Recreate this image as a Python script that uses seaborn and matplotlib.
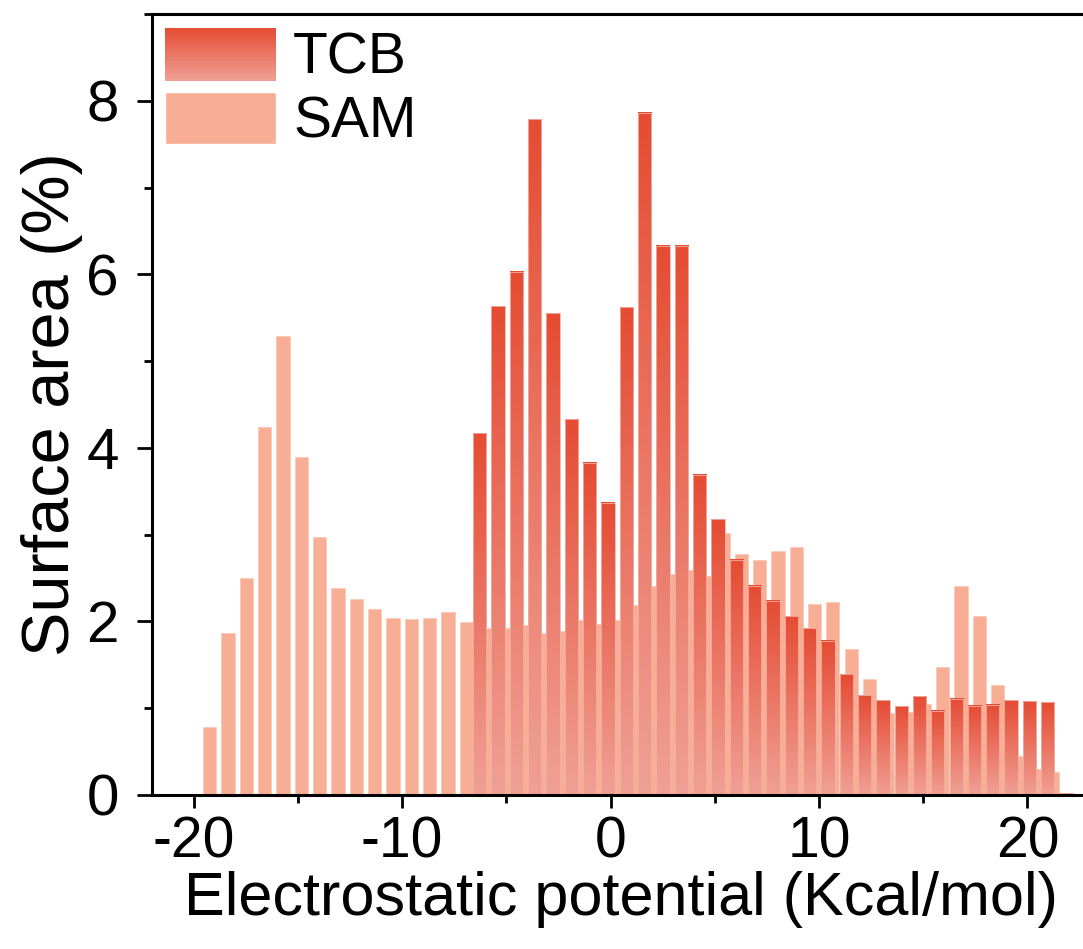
import numpy as np
import matplotlib
matplotlib.use("Agg")
import matplotlib.pyplot as plt
import seaborn as sns
from matplotlib.colors import LinearSegmentedColormap
from matplotlib.legend_handler import HandlerBase
from matplotlib.patches import Rectangle
from matplotlib.ticker import MultipleLocator

# ---------------- data ----------------
series_labels = ["TCB", "SAM"]

sam_values = [0.78, 1.87, 2.50, 4.24, 5.29, 3.89, 2.97, 2.39, 2.26, 2.14,
              2.04, 2.03, 2.04, 2.11, 1.99, 1.92, 1.93, 1.96, 1.87, 1.89,
              2.02, 1.97, 2.02, 2.19, 2.41, 2.55, 2.59, 2.52, 3.02, 2.78,
              2.71, 2.81, 2.86, 2.20, 2.22, 1.68, 1.34, 0.94, 0.96, 1.05,
              1.48, 2.41, 2.06, 1.27, 0.45, 0.30, 0.27]

tcb_values = [4.17, 5.63, 6.03, 7.79, 5.55, 4.33, 3.83, 3.37, 5.62, 7.86,
              6.33, 6.33, 3.69, 3.18, 2.71, 2.41, 2.24, 2.06, 1.92, 1.78,
              1.39, 1.15, 1.09, 1.02, 1.14, 0.97, 1.11, 1.03, 1.04, 1.09,
              1.08, 1.07, 0.02]

# bin centres (Kcal/mol)
SAM_START = -19.23
TCB_START = -6.28
BIN_STEP = 0.8792
sam_x = np.round(SAM_START + BIN_STEP * np.arange(len(sam_values)), 4)
tcb_x = np.round(TCB_START + BIN_STEP * np.arange(len(tcb_values)), 4)

x_ticks = [-20, -10, 0, 10, 20]
y_ticks = [0, 2, 4, 6, 8]

# ---------------- style ----------------
SAM_COLOR = "#F8AE94"
TCB_TOP = "#E54C33"
TCB_BOTTOM = "#F0A096"
tcb_cmap = LinearSegmentedColormap.from_list("tcb", [TCB_BOTTOM, TCB_TOP])

sns.set_theme(style="ticks")
plt.rcParams["font.family"] = ["Liberation Sans", "DejaVu Sans"]
plt.rcParams["axes.unicode_minus"] = False
plt.rcParams["text.color"] = "black"
plt.rcParams["axes.labelcolor"] = "black"

fig = plt.figure(figsize=(10.83, 9.49), dpi=100)
ax = fig.add_axes([152 / 1083, 154 / 949, 938 / 1083, 781 / 949])

sns.barplot(x=sam_x, y=sam_values, native_scale=True, width=0.727,
            color=SAM_COLOR, saturation=1, errorbar=None, ax=ax,
            edgecolor="#FBC9B6", linewidth=0.6)
n_sam = len(ax.patches)
sns.barplot(x=tcb_x, y=tcb_values, native_scale=True, width=0.727,
            color=TCB_TOP, saturation=1, errorbar=None, ax=ax,
            edgecolor="#F3B0A6", linewidth=0.6)

grad = np.linspace(0, 1, 256).reshape(-1, 1)
for p in ax.patches[n_sam:]:
    x0, w, h = p.get_x(), p.get_width(), p.get_height()
    ax.imshow(grad, extent=[x0, x0 + w, 0, h], origin="lower", cmap=tcb_cmap,
              aspect="auto", interpolation="bilinear", zorder=1.5)
    p.set_facecolor("none")
    p.set_zorder(1.6)

ax.set_xlim(-22, 23)
ax.set_ylim(0, 9)
ax.set_xticks(x_ticks)
ax.set_yticks(y_ticks)
ax.xaxis.set_minor_locator(MultipleLocator(5))
ax.yaxis.set_minor_locator(MultipleLocator(1))

for s in ax.spines.values():
    s.set_visible(True)
    s.set_color("black")
    s.set_linewidth(2.2)

ax.tick_params(axis="y", which="major", direction="out", length=11, width=2,
               colors="black", labelsize=42, pad=13)
ax.tick_params(axis="x", which="major", direction="out", length=9, width=2,
               colors="black", labelsize=41, pad=6)
ax.tick_params(axis="both", which="minor", direction="out", length=6, width=2,
               colors="black")
ax.tick_params(axis="x", which="both", top=False)
ax.tick_params(axis="y", which="both", right=False)

ax.set_xlabel("Electrostatic potential (Kcal/mol)", fontsize=44, labelpad=1)
ax.set_ylabel("Surface area (%)", fontsize=48, labelpad=2)


class GradientHandler(HandlerBase):
    def create_artists(self, legend, orig_handle, xdescent, ydescent, width,
                       height, fontsize, trans):
        n = 40
        arts = []
        for k in range(n):
            r = Rectangle((-xdescent, -ydescent + height * k / n), width,
                          height / n * 1.05, facecolor=tcb_cmap((k + 0.5) / n),
                          edgecolor="none", transform=trans)
            arts.append(r)
        return arts


tcb_proxy = Rectangle((0, 0), 1, 1, facecolor=TCB_TOP)
sam_proxy = Rectangle((0, 0), 1, 1, facecolor=SAM_COLOR)
ax.legend([tcb_proxy, sam_proxy], series_labels,
          handler_map={tcb_proxy: GradientHandler()},
          loc="upper left", bbox_to_anchor=(13 / 938, 1 - 14 / 781),
          frameon=False, fontsize=41, handlelength=1.95, handleheight=1.05,
          labelspacing=0.1, handletextpad=0.3, borderpad=0, borderaxespad=0)

fig.savefig("out.png", dpi=100)
